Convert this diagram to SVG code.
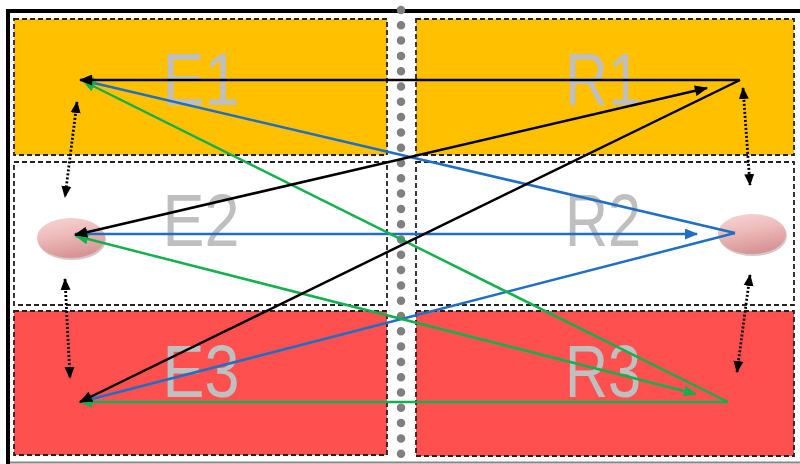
<svg xmlns="http://www.w3.org/2000/svg" width="800" height="464" viewBox="0 0 800 464">
<defs>
<style>
.box{stroke:#222;stroke-width:1.8;stroke-dasharray:5 3}
.lbl{font-family:"Liberation Sans",Arial,sans-serif;font-size:75px;fill:#BFBFBF;text-anchor:middle}
.ln{fill:none;stroke-width:2.5}
.k{stroke:#000}
.b{stroke:#1F6FC5}
.g{stroke:#14B050}
.dot{fill:none;stroke:#000;stroke-width:2.8;stroke-dasharray:2 2}
</style>
<marker id="ak" viewBox="0 0 12 10" refX="11" refY="5" markerWidth="14" markerHeight="11" markerUnits="userSpaceOnUse" orient="auto-start-reverse"><path d="M0,0L12,5L0,10z" fill="#000"/></marker>
<marker id="ab" viewBox="0 0 12 10" refX="11" refY="5" markerWidth="14" markerHeight="11" markerUnits="userSpaceOnUse" orient="auto-start-reverse"><path d="M0,0L12,5L0,10z" fill="#1F6FC5"/></marker>
<marker id="ag" viewBox="0 0 12 10" refX="11" refY="5" markerWidth="14" markerHeight="11" markerUnits="userSpaceOnUse" orient="auto-start-reverse"><path d="M0,0L12,5L0,10z" fill="#14B050"/></marker>
<marker id="ad" viewBox="0 0 12 10" refX="11" refY="5" markerWidth="12" markerHeight="11" markerUnits="userSpaceOnUse" orient="auto-start-reverse"><path d="M0,0L12,5L0,10z" fill="#000"/></marker>
<linearGradient id="pink" x1="0" y1="0" x2="0.3" y2="1">
<stop offset="0" stop-color="#F7D6D6"/>
<stop offset="0.5" stop-color="#EDBABA"/>
<stop offset="1" stop-color="#D99595"/>
</linearGradient>
</defs>
<rect width="800" height="464" fill="#fff"/>
<g id="frame">
<path d="M8,464V11H800" fill="none" stroke="#000" stroke-width="4"/>
<line x1="10" y1="462.5" x2="800" y2="462.5" stroke="#888" stroke-width="2"/>
</g>
<g id="E1"><rect class="box" x="14" y="19" width="373" height="136" fill="#FFC000"/><text class="lbl" x="201" y="105" textLength="77" lengthAdjust="spacingAndGlyphs">E1</text></g>
<g id="R1"><rect class="box" x="416" y="19" width="378" height="136" fill="#FFC000"/><text class="lbl" x="603" y="105" textLength="76" lengthAdjust="spacingAndGlyphs">R1</text></g>
<g id="E2"><rect class="box" x="14" y="162" width="373" height="143" fill="#fff"/><text class="lbl" x="201" y="246" textLength="77" lengthAdjust="spacingAndGlyphs">E2</text></g>
<g id="R2"><rect class="box" x="416" y="162" width="378" height="143" fill="#fff"/><text class="lbl" x="603" y="246" textLength="76" lengthAdjust="spacingAndGlyphs">R2</text></g>
<g id="E3"><rect class="box" x="14" y="311" width="373" height="144" fill="#FF5050"/><text class="lbl" x="201" y="397" textLength="77" lengthAdjust="spacingAndGlyphs">E3</text></g>
<g id="R3"><rect class="box" x="416" y="311" width="378" height="145" fill="#FF5050"/><text class="lbl" x="603" y="397" textLength="76" lengthAdjust="spacingAndGlyphs">R3</text></g>
<g id="divider"><line x1="401" y1="10" x2="401" y2="464" stroke="#808080" stroke-width="8.5" stroke-linecap="round" stroke-dasharray="0 15.3"/></g>
<g id="nodeE2"><ellipse cx="72" cy="240" rx="34" ry="20" fill="#a08888" opacity="0.45"/><ellipse cx="71" cy="238" rx="34" ry="20" fill="url(#pink)"/></g>
<g id="nodeR2"><ellipse cx="753" cy="236" rx="34" ry="20" fill="#a08888" opacity="0.45"/><ellipse cx="752" cy="234" rx="34" ry="20" fill="url(#pink)"/></g>
<g id="connectors">
<line class="ln b" x1="735" y1="233" x2="81" y2="80" marker-end="url(#ab)"/>
<line class="ln b" x1="75" y1="234" x2="697" y2="234" marker-start="url(#ab)" marker-end="url(#ab)"/>
<line class="ln b" x1="735" y1="233" x2="80" y2="402" marker-end="url(#ab)"/>
<line class="ln g" x1="728" y1="402" x2="83" y2="81" marker-end="url(#ag)"/>
<line class="ln g" x1="76" y1="236" x2="696" y2="394" marker-start="url(#ag)" marker-end="url(#ag)"/>
<line class="ln g" x1="728" y1="402" x2="80" y2="402" marker-end="url(#ag)"/>
<line class="ln k" x1="740" y1="80" x2="80" y2="80" marker-end="url(#ak)"/>
<line class="ln k" x1="75" y1="235" x2="707" y2="88" marker-start="url(#ak)" marker-end="url(#ak)"/>
<line class="ln k" x1="740" y1="80" x2="80" y2="402" marker-end="url(#ak)"/>
<line class="dot" x1="77" y1="102" x2="65" y2="197" marker-start="url(#ad)" marker-end="url(#ad)"/>
<line class="dot" x1="65" y1="279" x2="70" y2="378" marker-start="url(#ad)" marker-end="url(#ad)"/>
<line class="dot" x1="743" y1="88" x2="750" y2="185" marker-start="url(#ad)" marker-end="url(#ad)"/>
<line class="dot" x1="750" y1="275" x2="737" y2="372" marker-start="url(#ad)" marker-end="url(#ad)"/>
</g>
</svg>
